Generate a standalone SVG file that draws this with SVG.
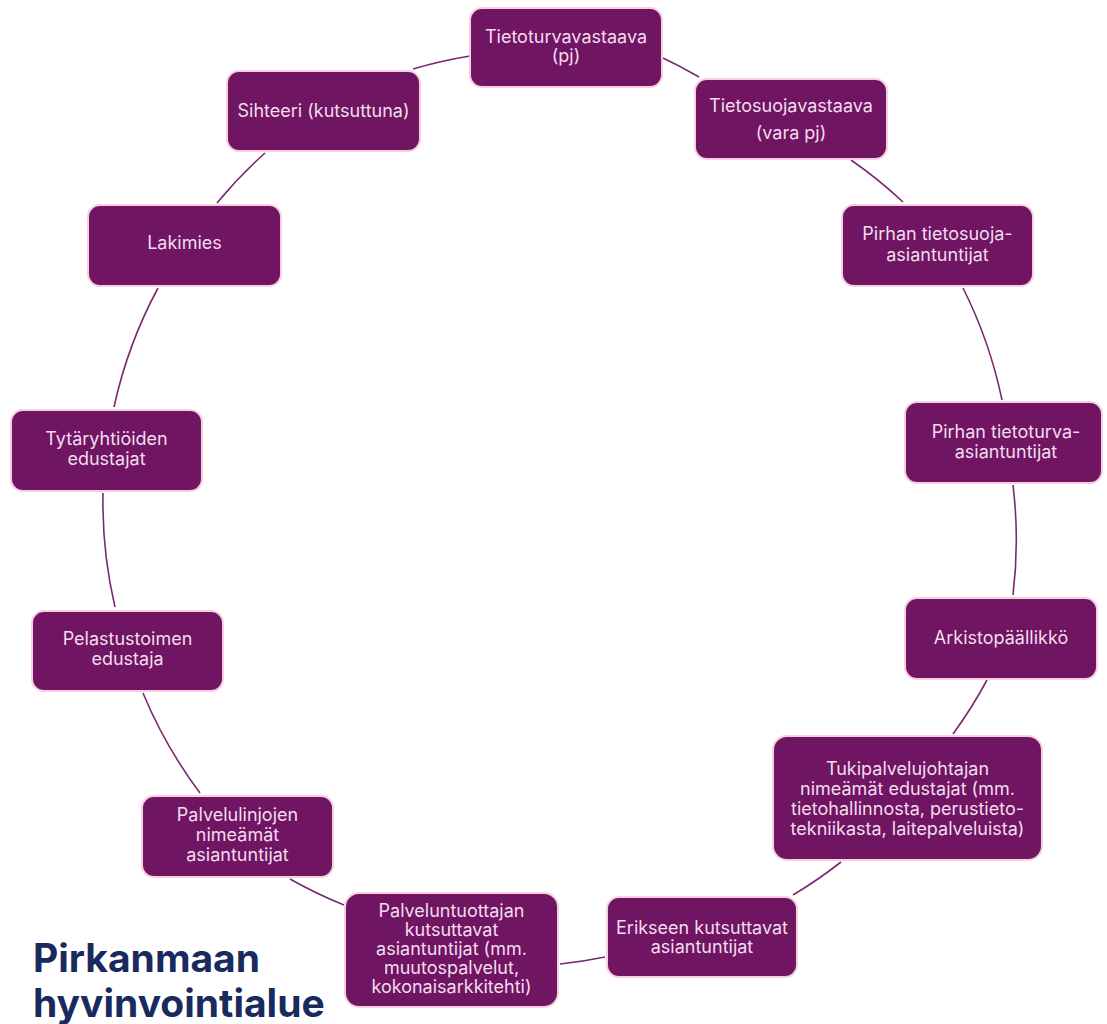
<svg xmlns="http://www.w3.org/2000/svg" width="1107" height="1024" viewBox="0 0 1107 1024">
<style>
.box{fill:#701562;stroke:#f6cfe0;stroke-width:2}
.t{font-family:Inter,"Noto Sans",sans-serif;font-size:18px;fill:#f3dcef;text-anchor:middle}
.c{fill:none;stroke:#7a2a6e;stroke-width:1.6}
.title{font-family:Inter,"Noto Sans",sans-serif;font-weight:700;font-size:39px;fill:#182a5e;letter-spacing:0px}
</style>
<rect width="1107" height="1024" fill="#ffffff"/>
<g id="connectors">
<path class="c" d="M413,69 A458,458 0 0 1 470,56"/>
<path class="c" d="M663,58 A458,458 0 0 1 699,77"/>
<path class="c" d="M851,160 A458,458 0 0 1 903,202"/>
<path class="c" d="M963,288 A458,458 0 0 1 1002,400"/>
<path class="c" d="M1013,485 A458,458 0 0 1 1013,595"/>
<path class="c" d="M987,680 A458,458 0 0 1 953,734"/>
<path class="c" d="M841,862 A458,458 0 0 1 793,895"/>
<path class="c" d="M605,957 A458,458 0 0 1 560,964"/>
<path class="c" d="M344,905 A458,458 0 0 1 290,879"/>
<path class="c" d="M200,793 A458,458 0 0 1 143,693"/>
<path class="c" d="M115,607 A458,458 0 0 1 103,493"/>
<path class="c" d="M114,407 A458,458 0 0 1 158,288"/>
<path class="c" d="M217,203 A458,458 0 0 1 265,153"/>
</g>
<g id="n-tietoturvavastaava"><rect class="box" x="470" y="8" width="192" height="79" rx="12"/><text class="t" x="566" y="43">Tietoturvavastaava</text><text class="t" x="566" y="62">(pj)</text></g>
<g id="n-tietosuojavastaava"><rect class="box" x="695" y="79" width="192" height="80" rx="12"/><text class="t" x="791" y="112">Tietosuojavastaava</text><text class="t" x="791" y="139">(vara pj)</text></g>
<g id="n-sihteeri"><rect class="box" x="227" y="71" width="193" height="80" rx="12"/><text class="t" x="323.5" y="117">Sihteeri (kutsuttuna)</text></g>
<g id="n-lakimies"><rect class="box" x="88" y="205" width="193" height="81" rx="12"/><text class="t" x="184.5" y="249">Lakimies</text></g>
<g id="n-pirhan-tietosuoja"><rect class="box" x="842" y="205" width="191" height="81" rx="12"/><text class="t" x="937.5" y="240">Pirhan tietosuoja-</text><text class="t" x="937.5" y="261">asiantuntijat</text></g>
<g id="n-pirhan-tietoturva"><rect class="box" x="905" y="402" width="197" height="81" rx="12"/><text class="t" x="1006" y="438">Pirhan tietoturva-</text><text class="t" x="1006" y="458">asiantuntijat</text></g>
<g id="n-tytaryhtiot"><rect class="box" x="11" y="410" width="191" height="81" rx="12"/><text class="t" x="106.5" y="445">Tytäryhtiöiden</text><text class="t" x="106.5" y="465">edustajat</text></g>
<g id="n-arkisto"><rect class="box" x="905" y="598" width="192" height="81" rx="12"/><text class="t" x="1001" y="644">Arkistopäällikkö</text></g>
<g id="n-pelastustoimi"><rect class="box" x="32" y="611" width="191" height="80" rx="12"/><text class="t" x="127.5" y="645">Pelastustoimen</text><text class="t" x="127.5" y="665">edustaja</text></g>
<g id="n-tukipalvelu"><rect class="box" x="773" y="736" width="269" height="124" rx="14"/><text class="t" x="907.5" y="775">Tukipalvelujohtajan</text><text class="t" x="907.5" y="795">nimeämät edustajat (mm.</text><text class="t" x="907.5" y="815">tietohallinnosta, perustieto-</text><text class="t" x="907.5" y="835">tekniikasta, laitepalveluista)</text></g>
<g id="n-palvelulinjat"><rect class="box" x="142" y="796" width="191" height="81" rx="12"/><text class="t" x="237.5" y="821">Palvelulinjojen</text><text class="t" x="237.5" y="841">nimeämät</text><text class="t" x="237.5" y="861">asiantuntijat</text></g>
<g id="n-erikseen"><rect class="box" x="607" y="897" width="190" height="80" rx="12"/><text class="t" x="702" y="934">Erikseen kutsuttavat</text><text class="t" x="702" y="953">asiantuntijat</text></g>
<g id="n-palveluntuottaja"><rect class="box" x="345" y="893" width="213" height="114" rx="14"/><text class="t" x="451.5" y="917">Palveluntuottajan</text><text class="t" x="451.5" y="936">kutsuttavat</text><text class="t" x="451.5" y="955">asiantuntijat (mm.</text><text class="t" x="451.5" y="974">muutospalvelut,</text><text class="t" x="451.5" y="993">kokonaisarkkitehti)</text></g>
<g id="logo"><text class="title" x="33" y="972">Pirkanmaan</text><text class="title" x="33" y="1017">hyvinvointialue</text></g>
</svg>
